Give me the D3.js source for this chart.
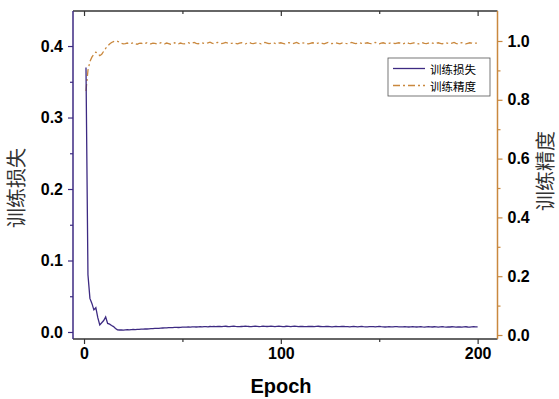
<!DOCTYPE html>
<html><head><meta charset="utf-8">
<script src="https://cdn.jsdelivr.net/npm/d3@7"></script>
<style>body{margin:0;background:#fff}svg{display:block}</style>
</head><body><svg id="c" width="559" height="399"></svg>
<script>
const epochs = d3.range(1, 201);
const lossValues = [
0.370,0.080,0.047,0.040,0.031,0.034,0.020,0.010,0.013,0.016,0.021,0.012,0.011,0.009,0.0075,0.005,0.003,0.0028,0.0030,0.0027,
0.0030,0.0032,0.0029,0.0033,0.0035,0.0034,0.0037,0.0036,0.0040,0.0041,0.0043,0.0042,0.0045,0.0047,0.0046,0.0050,0.0052,0.0051,0.0054,0.0056,
0.0058,0.0057,0.0060,0.0062,0.0061,0.0064,0.0065,0.0063,0.0066,0.0068,0.0067,0.0069,0.0070,0.0068,0.0071,0.0072,0.0070,0.0073,0.0074,0.0072,
0.0074,0.0076,0.0073,0.0077,0.0075,0.0078,0.0076,0.0079,0.0077,0.0075,0.0078,0.0080,0.0077,0.0076,0.0079,0.0081,0.0078,0.0076,0.0074,0.0077,
0.0079,0.0082,0.0080,0.0077,0.0075,0.0078,0.0080,0.0079,0.0076,0.0078,0.0081,0.0079,0.0077,0.0080,0.0082,0.0079,0.0076,0.0078,0.0080,0.0078,
0.0075,0.0077,0.0080,0.0078,0.0076,0.0079,0.0081,0.0078,0.0075,0.0077,0.0079,0.0076,0.0074,0.0077,0.0079,0.0077,0.0075,0.0078,0.0080,0.0077,
0.0074,0.0076,0.0079,0.0077,0.0075,0.0073,0.0076,0.0078,0.0076,0.0074,0.0077,0.0079,0.0076,0.0074,0.0072,0.0075,0.0077,0.0075,0.0073,0.0076,
0.0078,0.0075,0.0073,0.0071,0.0074,0.0076,0.0074,0.0072,0.0075,0.0077,0.0074,0.0072,0.0070,0.0073,0.0075,0.0073,0.0071,0.0074,0.0076,0.0073,
0.0071,0.0073,0.0075,0.0072,0.0070,0.0073,0.0075,0.0072,0.0070,0.0072,0.0074,0.0071,0.0069,0.0072,0.0074,0.0072,0.0070,0.0073,0.0071,0.0069,
0.0072,0.0074,0.0071,0.0069,0.0072,0.0070,0.0073,0.0071,0.0069,0.0072,0.0070,0.0068,0.0071,0.0073,0.0070,0.0068,0.0071,0.0073,0.0071,0.0072
];
const accValues = [
0.830,0.900,0.930,0.945,0.955,0.962,0.958,0.950,0.955,0.965,0.975,0.983,0.990,0.995,0.998,1.000,0.999,0.996,0.992,0.990,
0.991,0.993,0.990,0.992,0.994,0.991,0.989,0.992,0.993,0.990,0.992,0.994,0.991,0.990,0.993,0.992,0.990,0.991,0.994,0.992,
0.990,0.993,0.991,0.989,0.992,0.994,0.992,0.990,0.993,0.991,0.990,0.992,0.994,0.991,0.993,0.995,0.992,0.990,0.993,0.994,
0.992,0.991,0.994,0.996,0.993,0.991,0.994,0.995,0.993,0.991,0.993,0.995,0.993,0.991,0.992,0.994,0.992,0.990,0.993,0.994,
0.992,0.990,0.993,0.995,0.992,0.991,0.993,0.994,0.992,0.990,0.993,0.995,0.993,0.991,0.992,0.994,0.992,0.990,0.993,0.994,
0.992,0.990,0.992,0.994,0.993,0.991,0.993,0.995,0.992,0.990,0.993,0.994,0.992,0.990,0.992,0.994,0.993,0.991,0.993,0.994,
0.992,0.990,0.993,0.995,0.992,0.991,0.993,0.994,0.992,0.990,0.993,0.994,0.992,0.991,0.993,0.995,0.993,0.991,0.992,0.994,
0.992,0.990,0.993,0.994,0.992,0.991,0.993,0.995,0.992,0.990,0.993,0.994,0.992,0.990,0.992,0.994,0.993,0.991,0.993,0.994,
0.992,0.990,0.993,0.995,0.992,0.991,0.993,0.994,0.992,0.990,0.993,0.994,0.992,0.991,0.993,0.995,0.993,0.991,0.992,0.994,
0.992,0.990,0.993,0.994,0.992,0.991,0.993,0.995,0.992,0.990,0.993,0.994,0.992,0.990,0.992,0.994,0.993,0.991,0.993,0.993
];
const xTicks = [0, 100, 200];
const xMinor = [50, 150];
const lossTicks = [0, 0.1, 0.2, 0.3, 0.4];
const lossMinor = [0.05, 0.15, 0.25, 0.35];
const accTicks = [0, 0.2, 0.4, 0.6, 0.8, 1.0];
const accMinor = [0.1, 0.3, 0.5, 0.7, 0.9];
const seriesNames = ["训练损失", "训练精度"];

const cLoss = "#3d2a82", cAcc = "#c9883e", cFrame = "#333";
const L = 73, R = 497.5, T = 11, B = 339;
const svg = d3.select("#c");
const x = d3.scaleLinear().domain([-5.6, 210.1]).range([L, R]);
const yL = d3.scaleLinear().domain([-0.0098, 0.449]).range([B, T]);
const yR = d3.scaleLinear().domain([-0.0136, 1.102]).range([B, T]);

const tickFont = "bold 16px 'Liberation Sans', Arial, sans-serif";

function styleAxis(g, color) {
  g.select(".domain").remove();
  g.selectAll(".tick line").attr("stroke", color).attr("stroke-width", 1.2);
  g.selectAll(".tick text").style("font", tickFont).attr("fill", "#000");
}
// bottom
svg.append("g").attr("transform", `translate(0,${B})`)
  .call(d3.axisBottom(x).tickValues(xTicks).tickSize(5).tickPadding(4).tickFormat(d3.format("d")))
  .call(g => styleAxis(g, cFrame));
svg.append("g").attr("transform", `translate(0,${B})`)
  .call(d3.axisBottom(x).tickValues(xMinor).tickSize(3).tickFormat(""))
  .call(g => styleAxis(g, cFrame));
// top inward ticks
svg.append("g").attr("transform", `translate(0,${T})`)
  .call(d3.axisBottom(x).tickValues(xTicks).tickSize(5).tickFormat(""))
  .call(g => styleAxis(g, cFrame));
svg.append("g").attr("transform", `translate(0,${T})`)
  .call(d3.axisBottom(x).tickValues(xMinor).tickSize(3).tickFormat(""))
  .call(g => styleAxis(g, cFrame));
// left
svg.append("g").attr("transform", `translate(${L},0)`)
  .call(d3.axisLeft(yL).tickValues(lossTicks).tickSize(5).tickPadding(5).tickFormat(d3.format(".1f")))
  .call(g => styleAxis(g, cLoss));
svg.append("g").attr("transform", `translate(${L},0)`)
  .call(d3.axisLeft(yL).tickValues(lossMinor).tickSize(3).tickFormat(""))
  .call(g => styleAxis(g, cLoss));
// right
svg.append("g").attr("transform", `translate(${R},0)`)
  .call(d3.axisRight(yR).tickValues(accTicks).tickSize(5).tickPadding(5).tickFormat(d3.format(".1f")))
  .call(g => styleAxis(g, cAcc));
svg.append("g").attr("transform", `translate(${R},0)`)
  .call(d3.axisRight(yR).tickValues(accMinor).tickSize(3).tickFormat(""))
  .call(g => styleAxis(g, cAcc));

// frame lines
svg.append("line").attr("x1", L).attr("x2", R).attr("y1", T).attr("y2", T).attr("stroke", cFrame).attr("stroke-width", 1.3);
svg.append("line").attr("x1", L).attr("x2", R).attr("y1", B).attr("y2", B).attr("stroke", cFrame).attr("stroke-width", 1.3);
svg.append("line").attr("x1", L).attr("x2", L).attr("y1", T).attr("y2", B).attr("stroke", cLoss).attr("stroke-width", 1.5);
svg.append("line").attr("x1", R).attr("x2", R).attr("y1", T).attr("y2", B).attr("stroke", cAcc).attr("stroke-width", 1.5);

// lines
const lossLine = d3.line().x((d, i) => x(epochs[i])).y(d => yL(d));
const accLine = d3.line().x((d, i) => x(epochs[i])).y(d => yR(d));
svg.append("path").datum(accValues).attr("d", accLine).attr("fill", "none")
  .attr("stroke", cAcc).attr("stroke-width", 1.3).attr("stroke-dasharray", "7,3,2,3");
svg.append("path").datum(lossValues).attr("d", lossLine).attr("fill", "none")
  .attr("stroke", cLoss).attr("stroke-width", 1.3);

// legend
const lg = svg.append("g").attr("transform", "translate(388,58)");
lg.append("rect").attr("width", 102).attr("height", 38).attr("fill", "#fff").attr("stroke", "#555").attr("stroke-width", 0.8);
[cLoss, cAcc].forEach((c, i) => {
  const yy = 10.5 + i * 17;
  lg.append("line").attr("x1", 5).attr("x2", 37).attr("y1", yy).attr("y2", yy)
    .attr("stroke", c).attr("stroke-width", 1.3).attr("stroke-dasharray", i ? "7,3,2,3" : null);
  lg.append("text").attr("x", 42).attr("y", yy).attr("dominant-baseline", "central").text(seriesNames[i])
    .style("font", "11.5px 'Noto Sans CJK SC', sans-serif").attr("fill", "#000");
});

// axis titles
svg.append("text").attr("transform", "translate(24,188) rotate(-90)").attr("text-anchor", "middle")
  .style("font", "20px 'Noto Sans CJK SC', sans-serif").attr("fill", "#333").text(seriesNames[0]);
svg.append("text").attr("transform", "translate(553,171) rotate(-90)").attr("text-anchor", "middle")
  .style("font", "20px 'Noto Sans CJK SC', sans-serif").attr("fill", "#333").text(seriesNames[1]);
svg.append("text").attr("x", 281).attr("y", 393).attr("text-anchor", "middle")
  .style("font", "bold 20px 'Liberation Sans', Arial, sans-serif").attr("fill", "#000").text("Epoch");
</script></body></html>
